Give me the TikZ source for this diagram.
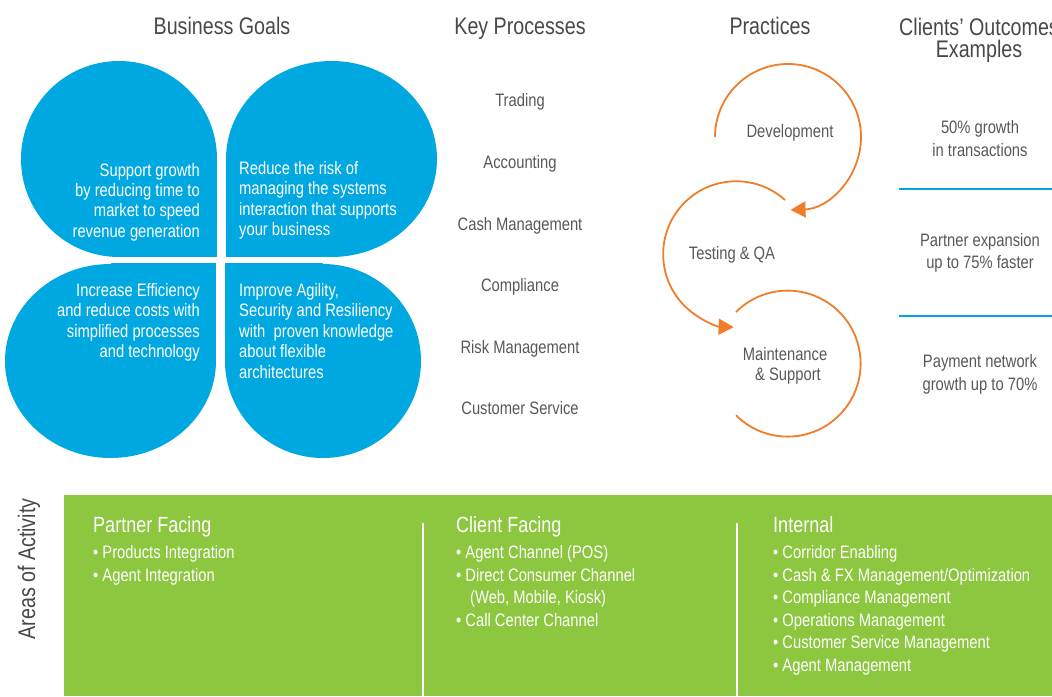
\documentclass[tikz,border=0pt]{standalone}
\usepackage{fontspec}
\setmainfont{Liberation Sans}[FakeStretch=0.82]
\usetikzlibrary{arrows.meta}
\definecolor{petal}{RGB}{0,168,225}
\definecolor{orng}{RGB}{239,125,42}
\definecolor{grn}{RGB}{141,198,63}
\definecolor{hdr}{RGB}{72,72,72}
\definecolor{txt}{RGB}{88,88,88}
\begin{document}
\begin{tikzpicture}[x=1pt,y=-1pt,
  hd/.style={font=\fontsize{24}{26}\selectfont, text=hdr, inner sep=0, anchor=base},
  bt/.style={font=\fontsize{18}{20}\selectfont, inner sep=0},
  wt/.style={bt, text=white},
  gt/.style={bt, text=txt, anchor=base},
  gh/.style={font=\fontsize{22}{24}\selectfont, text=white, inner sep=0, anchor=base west},
  cyc/.style={draw=orng, line width=1.8pt},
  tip/.style={-{Triangle[length=15pt,width=16pt]}},
  sep/.style={draw=petal, line width=2.5pt},
  div/.style={draw=white, line width=1.5pt}]
\useasboundingbox (0,0) rectangle (1052,696);
\clip (0,0) rectangle (1052,696);

% headers
\node[hd] (hbg) at (222,34) {Business Goals};
\node[hd] (hkp) at (520,34) {Key Processes};
\node[hd] (hpr) at (770,34) {Practices};
\node[hd] (hco1) at (979,35) {Clients’ Outcomes};
\node[hd] (hco2) at (979,57) {Examples};

% petals
\fill[petal] (119,159) ellipse [x radius=98, y radius=98];
\fill[petal] (119,159) rectangle (217,257);
\fill[petal] (331.5,159) ellipse [x radius=105.5, y radius=98];
\fill[petal] (331.5,159) rectangle (226,257);
\fill[petal] (110.5,361) ellipse [x radius=105.5, y radius=97];
\fill[petal] (110.5,361) rectangle (216,263);
\fill[petal] (323,361) ellipse [x radius=98, y radius=97];
\fill[petal] (323,361) rectangle (225,263);

\foreach \t/\y [count=\i] in {Support growth/176, by reducing time to/196, market to speed/216.5, revenue generation/237}
  \node[wt, anchor=base east] (tl\i) at (200,\y) {\t};
\foreach \t/\y [count=\i] in {Reduce the risk of/174, managing the systems/194.5, interaction that supports/215, your business/235.5}
  \node[wt, anchor=base west] (tr\i) at (239,\y) {\t};
\foreach \t/\y [count=\i] in {Increase Efficiency/296, and reduce costs with/316.5, simplified processes/337, and technology/357.5}
  \node[wt, anchor=base east] (bl\i) at (200,\y) {\t};
\foreach \t/\y [count=\i] in {{Improve Agility,}/296, Security and Resiliency/316.5, with\ \ proven knowledge/337, about flexible/357.5, architectures/378}
  \node[wt, anchor=base west] (br\i) at (239,\y) {\t};

% key processes
\foreach \t/\y [count=\i] in {Trading/106, Accounting/168, Cash Management/230, Compliance/291, Risk Management/353, Customer Service/414}
  \node[gt] (kp\i) at (520,\y) {\t};

% practices
\node[gt] (dev) at (790,137) {Development};
\node[gt] (tqa) at (732,259) {Testing \& QA};
\node[gt] (ms1) at (785,360) {Maintenance};
\node[gt] (ms2) at (788,380) {\& Support};
\draw[cyc, tip] (715,137) arc[start angle=180, end angle=448, radius=73];
\draw[cyc, tip] (785,200) arc[start angle=-48, end angle=-268, radius=73];
\draw[cyc] (736,312) arc[start angle=225, end angle=495, radius=73];

% outcomes
\foreach \t/\y [count=\i] in {50\% growth/133, in transactions/156, Partner expansion/246, up to 75\% faster/268, Payment network/367, growth up to 70\%/390}
  \node[gt] (oc\i) at (980,\y) {\t};
\coordinate (s1a) at (899,189); \coordinate (s1b) at (1052,189);
\coordinate (s2a) at (899,316); \coordinate (s2b) at (1052,316);
\draw[sep] (s1a) -- (s1b);
\draw[sep] (s2a) -- (s2b);

% areas of activity
\node[font=\fontsize{24}{26}\selectfont, text=hdr, inner sep=0, rotate=90] (aoa) at (29,569) {Areas of Activity};
\fill[grn] (64,495) rectangle (1052,696);
\coordinate (d1a) at (423,523); \coordinate (d1b) at (423,696);
\coordinate (d2a) at (737,523); \coordinate (d2b) at (737,696);
\draw[div] (d1a) -- (d1b);
\draw[div] (d2a) -- (d2b);

\node[gh] (pf) at (93,532) {Partner Facing};
\node[gh] (cf) at (456,532) {Client Facing};
\node[gh] (in) at (773,532) {Internal};
\foreach \t/\y [count=\i] in {• Products Integration/558, • Agent Integration/581}
  \node[wt, anchor=base west] (pfb\i) at (93,\y) {\t};
\foreach \t/\x/\y [count=\i] in {• Agent Channel (POS)/456/558, • Direct Consumer Channel/456/581, {(Web, Mobile, Kiosk)}/470/603.5, • Call Center Channel/456/626}
  \node[wt, anchor=base west] (cfb\i) at (\x,\y) {\t};
\foreach \t/\y [count=\i] in {• Corridor Enabling/558, {• Cash \& FX Management/Optimization}/581, • Compliance Management/603.5, • Operations Management/626, • Customer Service Management/648.5, • Agent Management/671}
  \node[wt, anchor=base west] (inb\i) at (773,\y) {\t};
\end{tikzpicture}
\end{document}
